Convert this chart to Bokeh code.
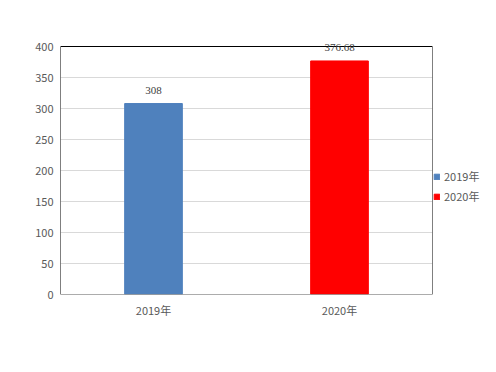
from bokeh.plotting import figure
from bokeh.models import ColumnDataSource, Legend, LegendItem, LabelSet, Range1d, FixedTicker, BoxAnnotation, Span
from bokeh.embed import file_html
from bokeh.resources import INLINE

categories = ["2019年", "2020年"]
values = [308, 376.68]
labels = ["308", "376.68"]
colors = ["#4F81BD", "#FF0000"]
y_ticks = [0, 50, 100, 150, 200, 250, 300, 350, 400]
y_max = 400

FONT = "Noto Sans CJK SC"

# frame is taller than the axis area so that labels above the top border are not clipped
AXIS_H = 248
EXTRA = 20
y_end = y_max * (AXIS_H + EXTRA) / AXIS_H

src = ColumnDataSource(dict(cat=categories, val=values, lab=labels, col=colors))

p = figure(x_range=categories, y_range=Range1d(0, y_end),
           frame_width=372, frame_height=AXIS_H + EXTRA,
           min_border_left=60, min_border_top=46 - EXTRA, min_border_bottom=70, min_border_right=4,
           output_backend="svg", toolbar_location=None)
p.outline_line_color = None
p.background_fill_color = "white"
p.border_fill_color = "white"

r = p.vbar(x="cat", top="val", width=0.31, color="col", source=src)

p.xgrid.grid_line_color = None
p.ygrid.grid_line_color = "#D9D9D9"
p.ygrid.ticker = FixedTicker(ticks=y_ticks)

p.add_layout(BoxAnnotation(bottom=0, top=y_max, fill_color=None, fill_alpha=0,
                           line_color="black", line_alpha=1.0, line_width=1))
p.add_layout(Span(location=0, dimension="width", line_color="#D9D9D9", line_alpha=1.0, line_width=1))

p.add_layout(LabelSet(x="cat", y="val", text="lab", source=src, y_offset=10,
                      text_align="center", text_baseline="bottom",
                      text_font=FONT, text_font_size="11px", text_color="#404040"))

p.yaxis.ticker = FixedTicker(ticks=y_ticks)
p.yaxis.axis_line_color = None
p.yaxis.major_tick_line_color = None
p.yaxis.minor_tick_line_color = None
p.yaxis.major_label_text_font = FONT
p.yaxis.major_label_text_font_size = "11px"
p.yaxis.major_label_text_color = "#595959"
p.yaxis.major_label_standoff = 1

p.xaxis.axis_line_color = None
p.xaxis.major_tick_line_color = None
p.xaxis.minor_tick_line_color = None
p.xaxis.major_label_text_font = FONT
p.xaxis.major_label_text_font_size = "11px"
p.xaxis.major_label_text_color = "#595959"
p.xaxis.major_label_standoff = 1

items = []
for i, c in enumerate(categories):
    items.append(LegendItem(label=c, renderers=[r], index=i))
legend = Legend(items=items, location=(1, 90), orientation="vertical",
                glyph_width=7, glyph_height=7, label_standoff=4,
                label_text_font=FONT, label_text_font_size="11px", label_text_color="#595959",
                border_line_color=None, background_fill_alpha=0,
                spacing=4, padding=2, margin=0, label_height=14)
p.add_layout(legend, "right")

open("out.html", "w").write(file_html(p, INLINE))
